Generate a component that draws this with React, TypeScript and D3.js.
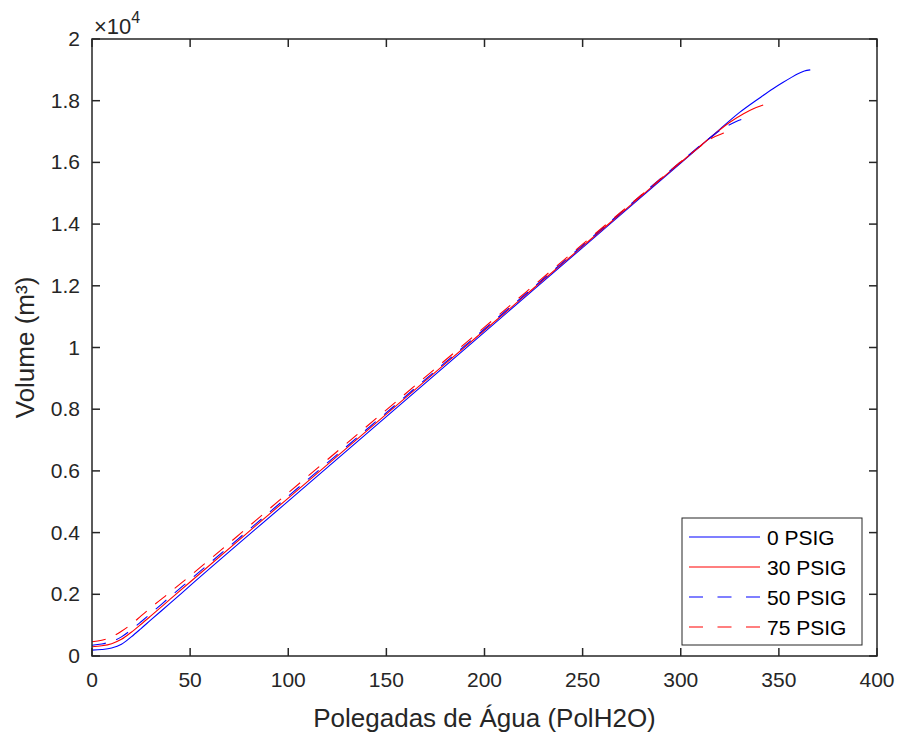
import * as d3 from "d3";
import { useEffect, useRef } from "react";

const W = 898;
const H = 735;
const margin = { left: 92, right: 21, top: 39, bottom: 79 };

// 0 PSIG (blue solid)
const x0 = [0, 5, 10, 15, 20, 25, 30, 40, 50, 100, 150, 200, 250, 300, 320, 330, 340, 347, 352, 356, 360, 363, 366];
const v0 = [190, 210, 260, 380, 620, 890, 1170, 1720, 2280, 5020, 7760, 10500, 13240, 15980, 17080, 17620, 18080, 18390, 18590, 18740, 18880, 18960, 19000];
// 30 PSIG (red solid)
const x30 = [0, 5, 10, 15, 20, 25, 30, 40, 50, 100, 150, 200, 250, 300, 315, 325, 332, 337, 342];
const v30 = [300, 330, 400, 540, 770, 1030, 1300, 1850, 2400, 5120, 7840, 10560, 13280, 16000, 16800, 17300, 17580, 17740, 17860];
// 50 PSIG (blue dashed)
const x50 = [0, 5, 10, 15, 20, 25, 30, 40, 50, 100, 150, 200, 250, 300, 315, 322, 328, 332, 335];
const v50 = [350, 390, 470, 620, 850, 1110, 1380, 1930, 2470, 5180, 7890, 10600, 13310, 16020, 16800, 17120, 17320, 17420, 17480];
// 75 PSIG (red dashed)
const x75 = [0, 5, 10, 15, 20, 25, 30, 40, 50, 100, 150, 200, 250, 290, 300, 310, 316, 321, 326];
const v75 = [460, 510, 620, 800, 1030, 1300, 1570, 2080, 2600, 5290, 7980, 10660, 13350, 15480, 16020, 16520, 16790, 16930, 17030];

const seriesNames = ["0 PSIG", "30 PSIG", "50 PSIG", "75 PSIG"];
const seriesX = [x0, x30, x50, x75];
const seriesV = [v0, v30, v50, v75];
const seriesColor = ["#0000ff", "#ff0000", "#0000ff", "#ff0000"];
const seriesDash = [null, null, "14,11", "14,11"];
const legendDash = [null, null, "14,14.5", "14,14.5"];

const xTicks = [0, 50, 100, 150, 200, 250, 300, 350, 400];
const yTicks = [0, 0.2, 0.4, 0.6, 0.8, 1, 1.2, 1.4, 1.6, 1.8, 2];

const AX = "#262626";
const FONT = "'Liberation Sans', Arial, Helvetica, sans-serif";

export default function App() {
  const ref = useRef<SVGSVGElement>(null);

  useEffect(() => {
    const svg = d3.select(ref.current);
    svg.selectAll("*").remove();

    const x = d3.scaleLinear().domain([0, 400]).range([margin.left, W - margin.right]);
    const y = d3.scaleLinear().domain([0, 20000]).range([H - margin.bottom, margin.top]);
    const x1 = x.range()[0], x2 = x.range()[1];
    const y1 = y.range()[1], y2 = y.range()[0];

    svg.append("rect").attr("width", W).attr("height", H).attr("fill", "#fff");

    // curves
    const line = d3.line<[number, number]>()
      .x((d) => x(d[0]))
      .y((d) => y(d[1]))
      .curve(d3.curveMonotoneX);

    seriesX.forEach((xs, i) => {
      const pts = xs.map((xv, j) => [xv, seriesV[i][j]] as [number, number]);
      svg.append("path")
        .attr("d", line(pts))
        .attr("fill", "none")
        .attr("stroke", seriesColor[i])
        .attr("stroke-width", 1.1)
        .attr("stroke-dasharray", seriesDash[i]);
    });

    // box
    svg.append("rect")
      .attr("x", x1).attr("y", y1)
      .attr("width", x2 - x1).attr("height", y2 - y1)
      .attr("fill", "none").attr("stroke", AX).attr("stroke-width", 1.5);

    const tl = 8;
    const g = svg.append("g").attr("font-family", FONT).attr("fill", AX);

    xTicks.forEach((t) => {
      const px = x(t);
      svg.append("line").attr("x1", px).attr("x2", px).attr("y1", y2).attr("y2", y2 - tl)
        .attr("stroke", AX).attr("stroke-width", 1.5);
      svg.append("line").attr("x1", px).attr("x2", px).attr("y1", y1).attr("y2", y1 + tl)
        .attr("stroke", AX).attr("stroke-width", 1.5);
      g.append("text").attr("x", px).attr("y", y2 + 31)
        .attr("text-anchor", "middle").attr("font-size", 21).text(String(t));
    });

    yTicks.forEach((t) => {
      const py = y(t * 10000);
      svg.append("line").attr("x1", x1).attr("x2", x1 + tl).attr("y1", py).attr("y2", py)
        .attr("stroke", AX).attr("stroke-width", 1.5);
      svg.append("line").attr("x1", x2).attr("x2", x2 - tl).attr("y1", py).attr("y2", py)
        .attr("stroke", AX).attr("stroke-width", 1.5);
      g.append("text").attr("x", x1 - 12).attr("y", py + 7)
        .attr("text-anchor", "end").attr("font-size", 21).text(String(t));
    });

    // exponent
    const ex = g.append("text").attr("x", x1 + 2).attr("y", 34).attr("font-size", 22);
    ex.append("tspan").text("×10");
    ex.append("tspan").attr("dy", -11).attr("font-size", 16).text("4");

    // axis labels
    g.append("text")
      .attr("x", (x1 + x2) / 2).attr("y", 727)
      .attr("text-anchor", "middle").attr("font-size", 26)
      .text("Polegadas de Água (PolH2O)");
    g.append("text")
      .attr("transform", `translate(34,${(y1 + y2) / 2}) rotate(-90)`)
      .attr("text-anchor", "middle").attr("font-size", 26)
      .text("Volume (m³)");

    // legend
    const lx = 682, ly = 518, lw = 180, lh = 127;
    const lg = svg.append("g");
    lg.append("rect").attr("x", lx).attr("y", ly).attr("width", lw).attr("height", lh)
      .attr("fill", "#fff").attr("stroke", AX).attr("stroke-width", 1);
    seriesNames.forEach((name, i) => {
      const ry = ly + 19 + i * 30;
      lg.append("line").attr("x1", lx + 7).attr("x2", lx + 78).attr("y1", ry).attr("y2", ry)
        .attr("stroke", seriesColor[i]).attr("stroke-width", 1.1)
        .attr("stroke-dasharray", legendDash[i]);
      lg.append("text").attr("x", lx + 85).attr("y", ry + 7.5).attr("font-size", 21)
        .attr("font-family", FONT).attr("fill", "#000").text(name);
    });
  }, []);

  return (
    <svg ref={ref} width={W} height={H} style={{ position: "absolute", left: 0, top: 0 }} />
  );
}
